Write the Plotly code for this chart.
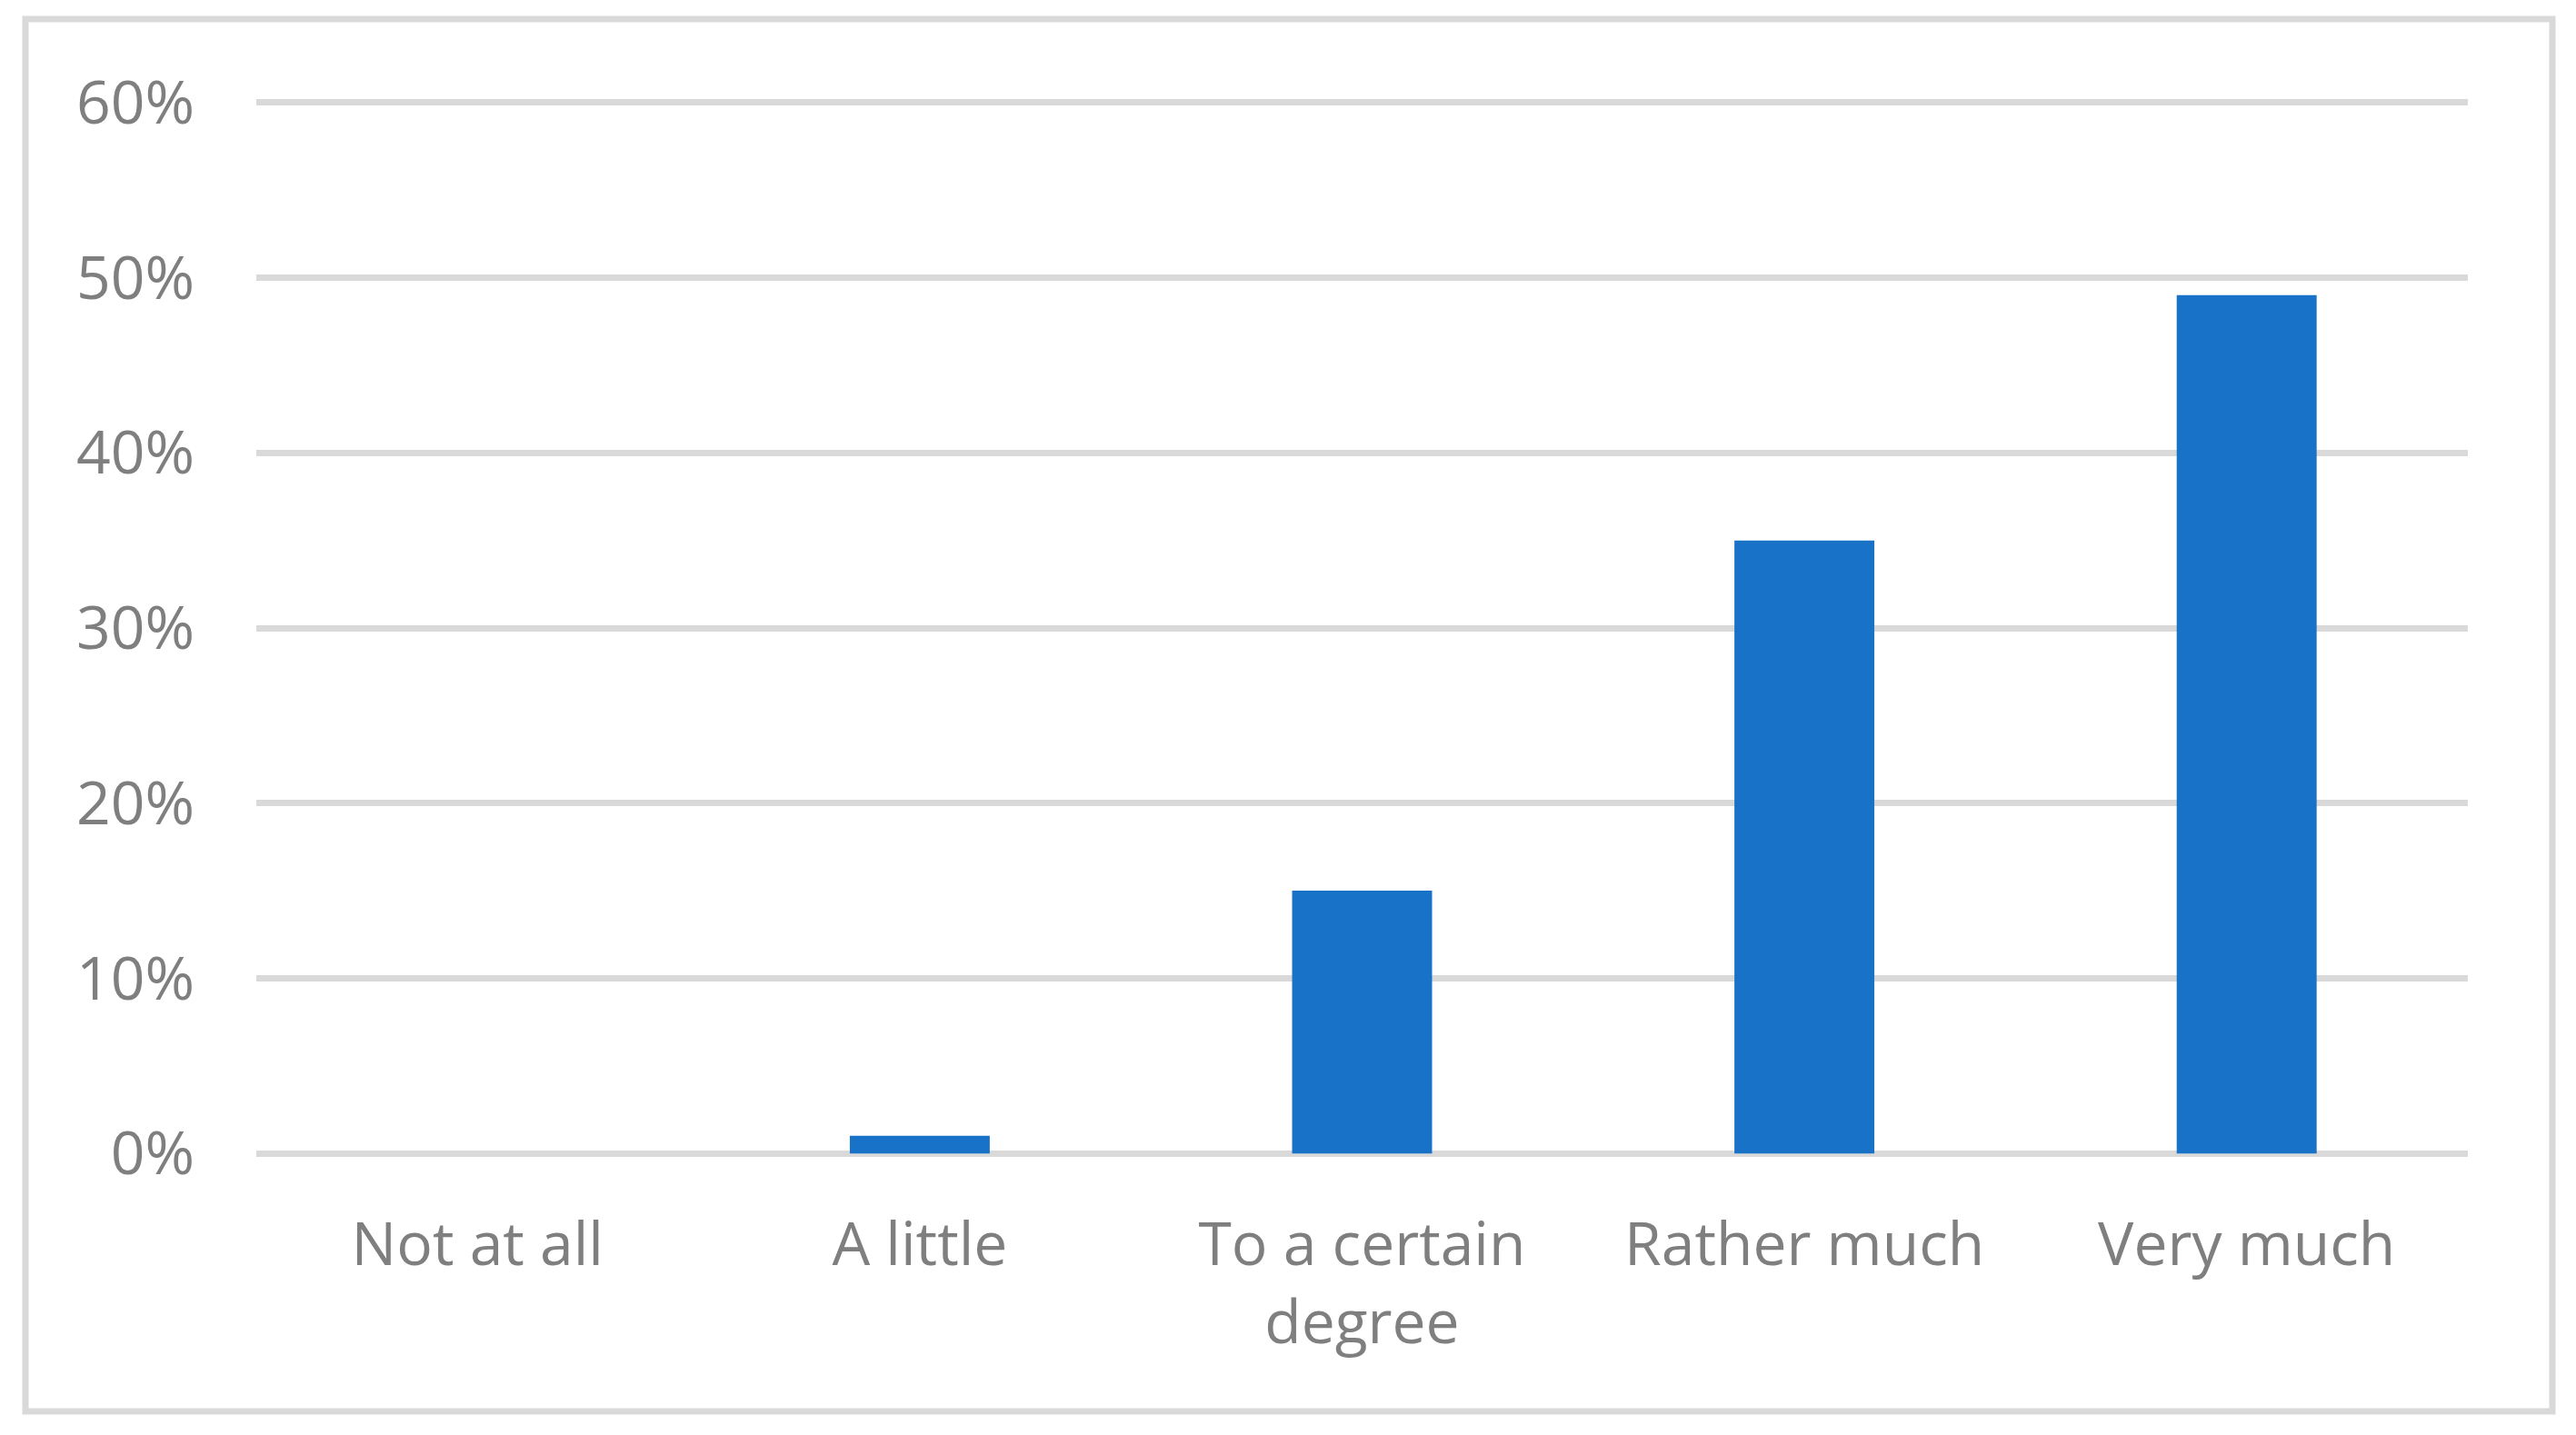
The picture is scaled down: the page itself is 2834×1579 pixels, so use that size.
import plotly.graph_objects as go

categories = ["Not at all", "A little", "To a certain<br>degree", "Rather much", "Very much"]
values = [0.0, 0.01, 0.15, 0.35, 0.49]
y_tickvals = [0, 0.1, 0.2, 0.3, 0.4, 0.5, 0.6]
y_ticktext = ["0%", "10%", "20%", "30%", "40%", "50%", "60%"]

OFF = 8  # default page body margin in the written html
W, H = 2834 - OFF, 1579 - OFF
# absolute pixel positions of the plot area in the target picture
PX_L, PX_R, PX_T, PX_B = 282, 2715, 109, 1273
L = PX_L - OFF
R = W - (PX_R - OFF)
T = PX_T - OFF
B = H - (PX_B - OFF)

GRID = "#d9d9d9"
TEXT = "#7f7f7f"
BAR = "#1873c8"
FONT = "Open Sans"

fig = go.Figure(
    go.Bar(x=categories, y=values, marker=dict(color=BAR, line=dict(width=0)))
)

pw = W - L - R
ph = H - T - B


def px_x(p):
    return (p - PX_L) / pw


def px_y(p):
    return (PX_B - p) / ph


fig.update_layout(
    width=W,
    height=H,
    margin=dict(l=L, r=R, t=T, b=B, pad=0),
    paper_bgcolor="white",
    plot_bgcolor="white",
    bargap=0.6836,
    showlegend=False,
    font=dict(family=FONT, color=TEXT, size=66),
    xaxis=dict(
        showgrid=False,
        zeroline=False,
        showline=False,
        ticks="",
        tickfont=dict(family=FONT, color=TEXT, size=66),
        ticklabelstandoff=52,
    ),
    yaxis=dict(
        range=[-0.002, 0.602],
        tickvals=y_tickvals,
        ticktext=y_ticktext,
        showgrid=True,
        gridcolor=GRID,
        gridwidth=7,
        zeroline=False,
        showline=False,
        ticks="",
        tickfont=dict(family=FONT, color=TEXT, size=66),
        ticklabelstandoff=67,
    ),
    shapes=[
        dict(
            type="rect",
            xref="paper",
            yref="paper",
            x0=px_x(28),
            x1=px_x(2808),
            y0=px_y(1553),
            y1=px_y(21),
            line=dict(color=GRID, width=7),
            fillcolor="rgba(0,0,0,0)",
            layer="below",
        )
    ],
)

fig.write_html("out.html")
